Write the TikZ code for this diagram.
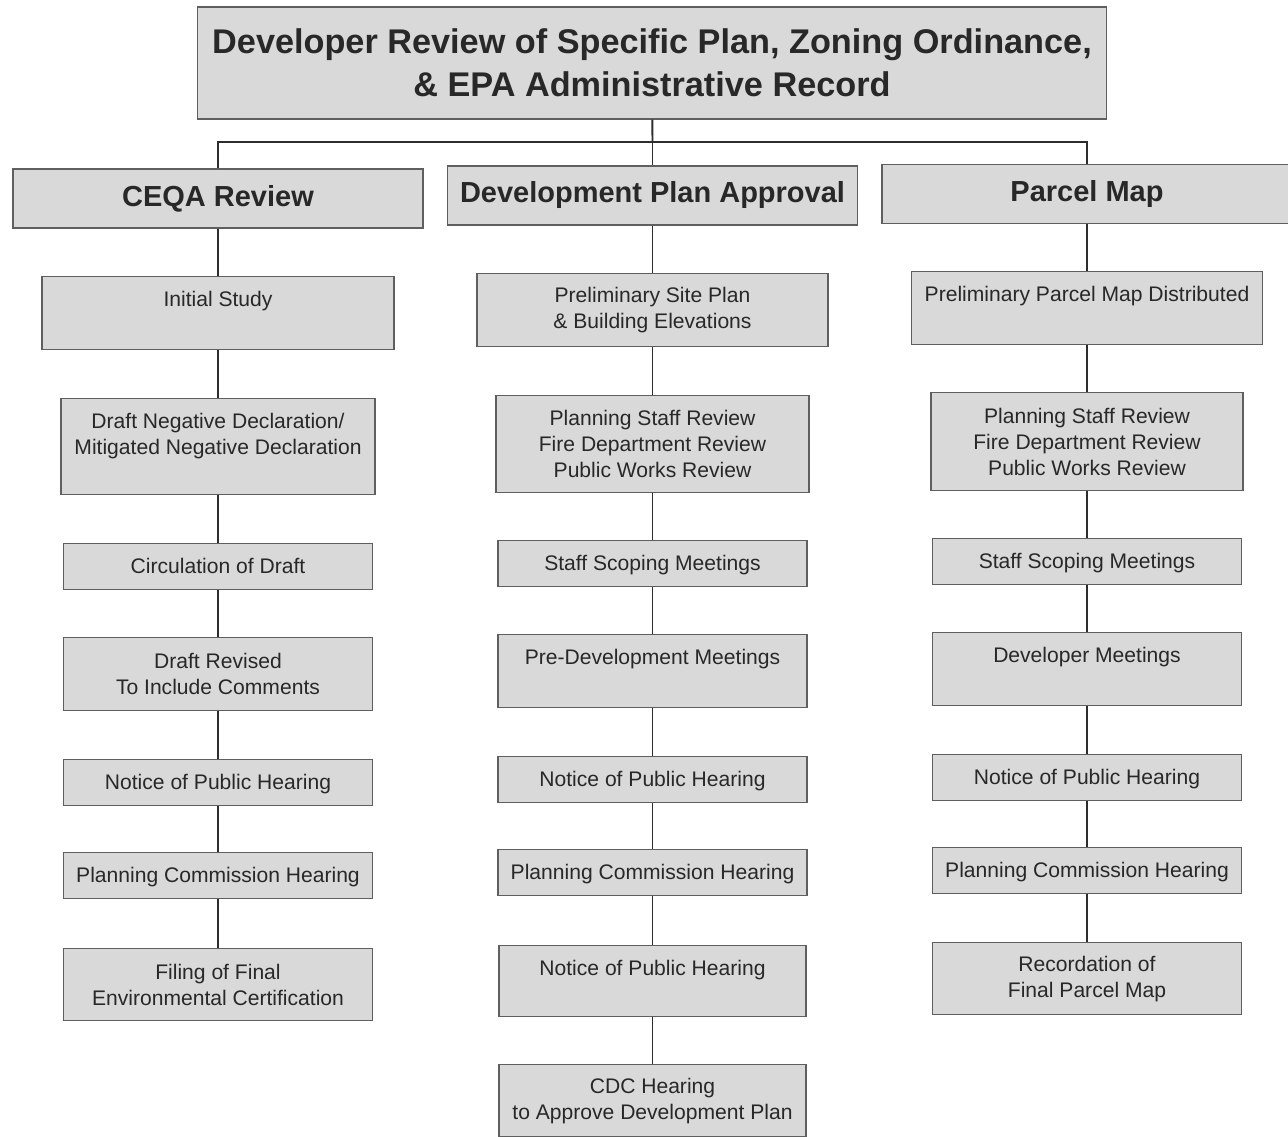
\documentclass[tikz,border=0pt]{standalone}
\usepackage{fontspec}
\setmainfont{Liberation Sans}
\usepackage{tikz}
\usetikzlibrary{positioning}
\usepackage{xcolor}
\definecolor{boxgray}{RGB}{217, 217, 217}
\definecolor{edgegray}{RGB}{95, 95, 95}
\definecolor{linkdark}{RGB}{45, 45, 45}
\definecolor{textdark}{RGB}{40, 40, 40}

\begin{document}
\begin{tikzpicture}[
    x=0.02cm, y=-0.02cm,
    titlebox/.style={rectangle, draw=edgegray, fill=boxgray, line width=0.8pt, minimum width=18.18cm, minimum height=2.24cm, align=center, font=\bfseries\fontsize{19.5}{24.4}\selectfont, text=textdark},
    headbox/.style={rectangle, draw=edgegray, fill=boxgray, line width=0.8pt, minimum width=8.2cm, minimum height=1.18cm, align=center, font=\bfseries\fontsize{16.5}{20}\selectfont, text=textdark},
    stepbox/.style={rectangle, draw=edgegray, fill=boxgray, line width=0.8pt, minimum width=6.18cm, minimum height=0.92cm, inner ysep=6pt, align=center, font=\fontsize{12}{14.7}\selectfont, text=textdark, anchor=north},
    toptext/.style={text height=11pt, text depth=#1},
    link/.style={line width=1.1pt, color=linkdark},
]
\useasboundingbox (0, 0) rectangle (1288, 1136);

% Top box
\node[titlebox] (title) at (652, 63) {Developer Review of Specific Plan, Zoning Ordinance,\\\& EPA Administrative Record};

% Column heads
\node[headbox] (ceqa) at (218, 198.5) {CEQA Review};
\node[headbox] (dpa) at (652.5, 195.5) {Development Plan Approval};
\node[headbox] (pm) at (1087, 194) {Parcel Map};

% CEQA Review
\node[stepbox, minimum width=7.04cm, toptext=18.4pt] (study) at (218, 276) {Initial Study};
\node[stepbox, minimum width=6.28cm, text height=25.7pt, text depth=16.7pt] (negdec) at (218, 398) {Draft Negative Declaration/\\Mitigated Negative Declaration};
\node[stepbox, toptext=3.1pt] (circ) at (218, 543) {Circulation of Draft};
\node[stepbox, minimum height=1.46cm] (revised) at (218, 637) {Draft Revised\\To Include Comments};
\node[stepbox, toptext=3.1pt] (notice1) at (218, 759) {Notice of Public Hearing};
\node[stepbox, toptext=3.1pt] (pch1) at (218, 852) {Planning Commission Hearing};
\node[stepbox, minimum height=1.44cm] (filing) at (218, 948) {Filing of Final\\Environmental Certification};

% Development Plan Approval
\node[stepbox, minimum width=7.02cm, minimum height=1.46cm] (siteplan) at (652.5, 273) {Preliminary Site Plan\\\& Building Elevations};
\node[stepbox, minimum width=6.26cm, minimum height=1.94cm] (review2) at (652.5, 395) {Planning Staff Review\\Fire Department Review\\Public Works Review};
\node[stepbox, toptext=3.1pt] (scoping2) at (652.5, 540) {Staff Scoping Meetings};
\node[stepbox, toptext=18.4pt] (predev) at (652.5, 634) {Pre-Development Meetings};
\node[stepbox, toptext=3.1pt] (notice2) at (652.5, 756) {Notice of Public Hearing};
\node[stepbox, toptext=3.1pt] (pch2) at (652.5, 849) {Planning Commission Hearing};
\node[stepbox, minimum width=6.14cm, toptext=17.2pt] (notice3) at (652.5, 945) {Notice of Public Hearing};
\node[stepbox, minimum width=6.14cm, minimum height=1.44cm] (cdc) at (652.5, 1064) {CDC Hearing\\to Approve Development Plan};

% Parcel Map
\node[stepbox, minimum width=7.02cm, toptext=18.4pt] (prelim) at (1087, 271) {Preliminary Parcel Map Distributed};
\node[stepbox, minimum width=6.24cm, minimum height=1.96cm] (review3) at (1087, 392) {Planning Staff Review\\Fire Department Review\\Public Works Review};
\node[stepbox, toptext=3.1pt] (scoping3) at (1087, 538) {Staff Scoping Meetings};
\node[stepbox, toptext=18.4pt] (devmeet) at (1087, 632) {Developer Meetings};
\node[stepbox, toptext=3.1pt] (notice4) at (1087, 754) {Notice of Public Hearing};
\node[stepbox, toptext=3.1pt] (pch3) at (1087, 847) {Planning Commission Hearing};
\node[stepbox, minimum height=1.44cm] (record) at (1087, 942) {Recordation of\\Final Parcel Map};

% Tree lines
\coordinate (bus) at (652.5, 142);
\draw[link] (title) -- (bus);
\draw[link] (ceqa) |- (bus) -| (pm);
\draw[link] (bus) -- (dpa);

\draw[link] (ceqa) -- (study);
\draw[link] (study) -- (negdec);
\draw[link] (negdec) -- (circ);
\draw[link] (circ) -- (revised);
\draw[link] (revised) -- (notice1);
\draw[link] (notice1) -- (pch1);
\draw[link] (pch1) -- (filing);

\draw[link] (dpa) -- (siteplan);
\draw[link] (siteplan) -- (review2);
\draw[link] (review2) -- (scoping2);
\draw[link] (scoping2) -- (predev);
\draw[link] (predev) -- (notice2);
\draw[link] (notice2) -- (pch2);
\draw[link] (pch2) -- (notice3);
\draw[link] (notice3) -- (cdc);

\draw[link] (pm) -- (prelim);
\draw[link] (prelim) -- (review3);
\draw[link] (review3) -- (scoping3);
\draw[link] (scoping3) -- (devmeet);
\draw[link] (devmeet) -- (notice4);
\draw[link] (notice4) -- (pch3);
\draw[link] (pch3) -- (record);

\end{tikzpicture}
\end{document}
